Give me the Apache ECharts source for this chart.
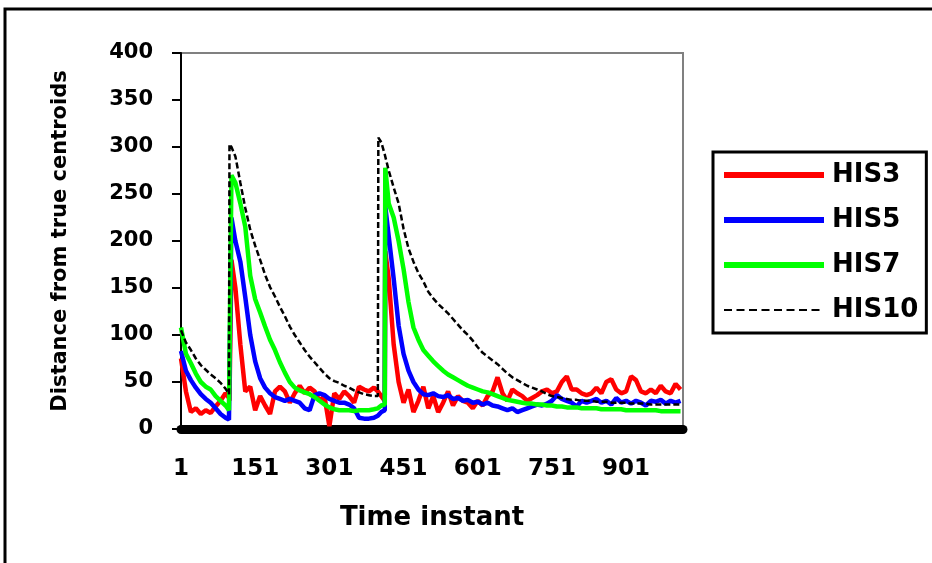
<!DOCTYPE html>
<html><head><meta charset="utf-8">
<script src="https://cdn.jsdelivr.net/npm/echarts@6/dist/echarts.min.js"></script>
<style>html,body{margin:0;padding:0;background:#fff}#c{width:932px;height:563px}</style>
</head><body><div id="c"></div>
<script>
const timeSteps = [0,10,20,30,40,50,60,70,80,90,97,98,101,102,
  110,120,130,140,150,160,170,180,190,200,210,220,230,240,250,260,270,280,290,300,310,320,330,340,350,360,370,380,390,
  398,399,405,412,413,
  420,430,440,450,460,470,480,490,500,510,520,530,540,550,560,570,580,590,600,610,
  620,630,640,650,660,670,680,690,700,710,720,730,740,750,760,770,780,790,800,810,
  820,830,840,850,860,870,880,890,900,910,920,930,940,950,960,970,980,990,1000,1010];

const his3 = [75,40,18,22,16,20,17,24,30,38, 33,30,30,180,
  150,90,40,45,20,35,25,16,40,45, 40,28,38,46,38,44,40,30,35,3, 38,32,40,35,28,45,42,40,44,
  40,38,35,30,189,
  160,90,50,28,42,18,30,45,22,35, 18,28,40,25,35,30,28,22,30,25,
  35,40,55,38,30,42,38,35,30,33, 36,40,42,38,40,50,56,42,42,38,
  36,38,44,38,50,53,42,38,40,56, 52,40,38,42,38,46,40,38,48,42];

const his5 = [83,62,52,44,37,32,28,22,16,12, 10,10,10,225,
  200,178,140,100,72,54,44,38,34,32, 30,32,30,28,22,20,36,38,36,32, 30,28,28,26,22,12,11,11,12,
  14,16,18,20,237,
  205,160,110,80,62,50,42,37,36,38, 35,34,36,32,33,30,31,28,29,26,
  28,25,24,22,20,22,18,20,22,24, 26,25,27,30,36,32,30,28,24,30,
  28,30,32,28,30,26,33,28,30,27, 30,28,25,30,29,31,27,30,28,30];

const his7 = [108,80,70,59,50,45,42,35,30,25, 20,19,18,270,
  262,240,215,163,138,124,109,95,84,71, 60,50,44,41,39,37,34,30,26,23, 21,20,20,20,19,20,20,20,21,
  22,23,25,26,278,
  240,225,200,170,135,108,95,84,78,72, 67,62,58,55,52,49,46,44,42,40,
  39,37,35,33,31,30,29,28,27,27, 26,26,25,25,24,24,23,23,23,22,
  22,22,22,21,21,21,21,21,20,20, 20,20,20,20,20,19,19,19,19,19];

const his10 = [105,92,84,75,68,63,58,54,49,43, 37,303,301,300,
  290,262,235,212,195,180,164,151,141,130, 120,109,100,92,84,77,71,65,59,54, 51,49,46,44,41,39,37,36,35,
  35,310,305,292,290,
  275,257,240,213,192,178,166,157,146,139, 133,128,123,117,111,105,100,94,87,81,
  77,73,69,64,59,55,52,49,46,44, 42,40,37,35,34,33,32,31,31,30,
  30,30,29,29,29,28,28,28,28,27, 27,27,27,26,26,26,26,26,26,26];

const seriesNames = ['HIS3','HIS5','HIS7','HIS10'];
const seriesColors = ['#ff0000','#0000ff','#00ff00','#000000'];
const seriesValues = [his3, his5, his7, his10];

const FONT = 'DejaVu Sans';
const dashIcon = 'path://M0,0h0.01v0.01h-0.01z M99.99,5.99h0.01v0.01h-0.01z ' +
  'M0,2h8v2h-8z M12.5,2h8v2h-8z M25,2h8v2h-8z M37.5,2h8v2h-8z M50,2h8v2h-8z M62.5,2h8v2h-8z M75,2h8v2h-8z M87.5,2h8v2h-8z';

const chart = echarts.init(document.getElementById('c'), null, {renderer:'canvas'});

chart.setOption({
  animation: false,
  backgroundColor: '#ffffff',
  graphic: [{
    type: 'rect', silent: true, z: 100,
    shape: {x: 5, y: 9, width: 1000, height: 1000},
    style: {fill: 'transparent', stroke: '#000', lineWidth: 3}
  }],
  grid: {left: 181, top: 53, width: 502, height: 376, show: true,
    borderColor: '#808080', borderWidth: 2, backgroundColor: '#fff'},
  legend: {
    orient: 'vertical', left: 713, top: 152,
    padding: [8, 8, 8, 11],
    borderColor: '#000', borderWidth: 3, backgroundColor: '#fff',
    itemWidth: 100, itemHeight: 6, itemGap: 15,
    itemStyle: {borderWidth: 0},
    lineStyle: {width: 0},
    textStyle: {fontFamily: FONT, fontWeight: 'bold', fontSize: 26, color: '#000', lineHeight: 30, padding: [0, 0, 0, 3]},
    data: seriesNames.map((n, i) => ({name: n, icon: i === 3 ? dashIcon : 'rect'}))
  },
  xAxis: {
    type: 'value', min: 0, max: 1015, interval: 150, offset: 4,
    axisLine: {lineStyle: {color: '#000', width: 9}},
    axisTick: {show: false},
    splitLine: {show: false},
    axisLabel: {formatter: v => String(v + 1), showMaxLabel: false, margin: 25,
      fontFamily: FONT, fontWeight: 'bold', fontSize: 23, color: '#000'},
    name: 'Time instant', nameLocation: 'middle', nameGap: 72,
    nameTextStyle: {fontFamily: FONT, fontWeight: 'bold', fontSize: 26, color: '#000'}
  },
  yAxis: {
    type: 'value', min: 0, max: 400, interval: 50,
    axisLine: {show: true, lineStyle: {color: '#000', width: 2}},
    axisTick: {show: true, length: 9, lineStyle: {color: '#000', width: 2}},
    splitLine: {show: false},
    axisLabel: {margin: 28, fontFamily: FONT, fontWeight: 'bold', fontSize: 21, color: '#000'},
    name: 'Distance from true centroids', nameLocation: 'middle', nameGap: 110,
    nameTextStyle: {fontFamily: FONT, fontWeight: 'bold', fontSize: 21, color: '#000'}
  },
  series: seriesNames.map((name, i) => ({
    name: name, type: 'line', symbol: 'none', showSymbol: false,
    data: timeSteps.map((t, k) => [t, seriesValues[i][k]]),
    lineStyle: i === 3 ? {color: seriesColors[i], width: 2.5, type: [6, 3]}
                       : {color: seriesColors[i], width: 4.5},
    itemStyle: {color: seriesColors[i]},
    z: 2 + i
  }))
});
</script></body></html>
